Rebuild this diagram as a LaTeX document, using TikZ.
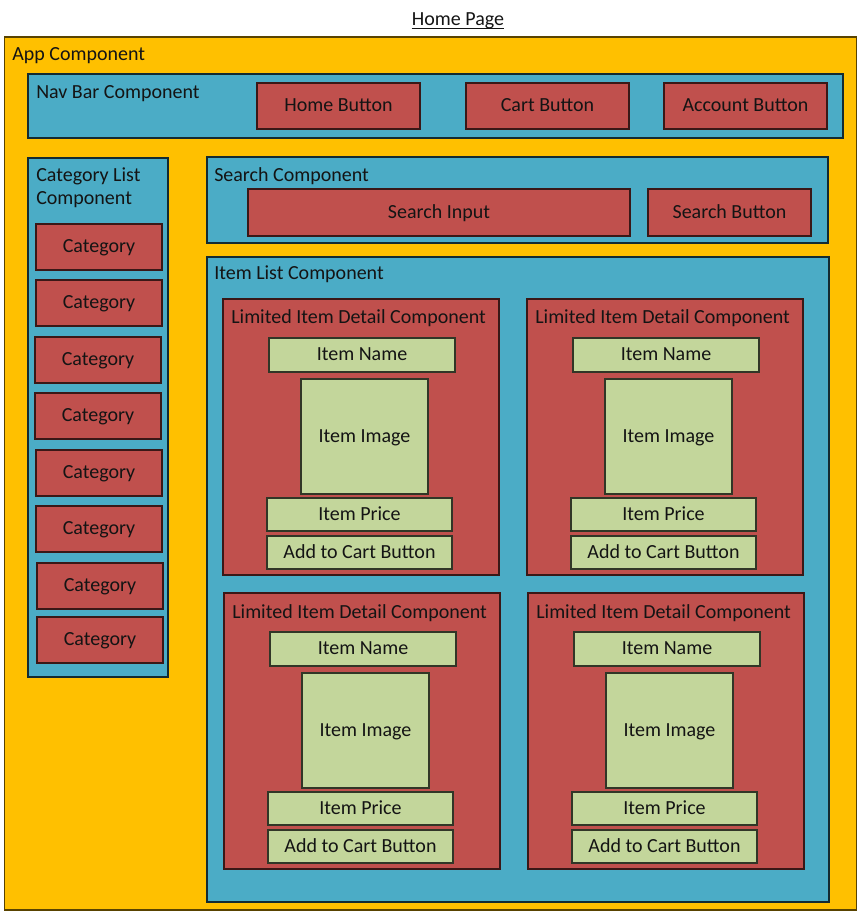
\documentclass[tikz,border=0pt]{standalone}
\usepackage{fontspec}
\setmainfont{Carlito}
\definecolor{appc}{HTML}{FFC000}
\definecolor{bluec}{HTML}{4BACC6}
\definecolor{redc}{HTML}{C0504D}
\definecolor{greenc}{HTML}{C3D69B}
\definecolor{txt}{HTML}{141414}
\newcommand{\rbox}[7]{\node[#1, minimum width={((#5)-(#3))*0.75pt}, minimum height={((#6)-(#4))*0.75pt}] (#2) at ({((#3)+(#5))/2},{((#4)+(#6))/2}) {#7};}
\newcommand{\lid}[3]{%
  \rbox{redbox}{#1}{#2}{#3}{#2+276}{#3+276}{}
  \node[lbl] (#1-t) at (#2+8,#3+25) {Limited Item Detail Component};
  \rbox{greenbox}{#1-name}{#2+46}{#3+39}{#2+232}{#3+73}{Item Name}
  \rbox{greenbox}{#1-img}{#2+78}{#3+80}{#2+205}{#3+195}{Item Image}
  \rbox{greenbox}{#1-price}{#2+44}{#3+199}{#2+229}{#3+232}{Item Price}
  \rbox{greenbox}{#1-add}{#2+44}{#3+237}{#2+229}{#3+270}{Add to Cart Button}
}
\begin{document}
\begin{tikzpicture}[x=0.75pt,y=-0.75pt,
  font=\fontsize{15}{17.25}\selectfont,
  basebox/.style={draw, line width=0.9pt, inner sep=0pt, text height=0.84em, text depth=0pt, text=txt},
  appbox/.style={basebox, fill=appc, draw=appc!35!black},
  bluebox/.style={basebox, fill=bluec, draw=bluec!25!black},
  redbox/.style={basebox, fill=redc, draw=redc!30!black},
  greenbox/.style={basebox, fill=greenc, draw=greenc!25!black},
  lbl/.style={anchor=base west, inner sep=0pt, text=txt}]
\useasboundingbox (0,0) rectangle (859,912);
\node[anchor=base, inner sep=0pt, text=txt] (home) at (458,26) {Home Page};
\draw[line width=0.8pt, txt] ([yshift=-1.6pt]home.base west) -- ([yshift=-1.6pt]home.base east);
\rbox{appbox}{app}{4.5}{37}{856.5}{910}{}
\node[lbl] (appt) at (12,61) {App Component};
\rbox{bluebox}{nav}{28}{74}{843}{138}{}
\node[lbl] (navt) at (36,99) {Nav Bar Component};
\rbox{redbox}{homeb}{257}{83}{420}{129}{Home Button}
\rbox{redbox}{cartb}{466}{83}{629}{129}{Cart Button}
\rbox{redbox}{accb}{664}{83}{827}{129}{Account Button}
\rbox{bluebox}{catl}{28}{158}{168}{677}{}
\node[lbl, align=left] (catlt) at (36,205) {Category List\\Component};
\rbox{redbox}{c1}{36}{224}{162}{270}{Category}
\rbox{redbox}{c2}{36}{280}{162}{326}{Category}
\rbox{redbox}{c3}{35}{337}{161}{383}{Category}
\rbox{redbox}{c4}{35}{393}{161}{439}{Category}
\rbox{redbox}{c5}{36}{450}{162}{496}{Category}
\rbox{redbox}{c6}{36}{506}{162}{552}{Category}
\rbox{redbox}{c7}{37}{563}{163}{609}{Category}
\rbox{redbox}{c8}{37}{617}{163}{663}{Category}
\rbox{bluebox}{search}{207}{157}{828}{243}{}
\node[lbl] (searcht) at (214,182) {Search Component};
\rbox{redbox}{sinput}{248}{189}{630}{236}{Search Input}
\rbox{redbox}{sbutton}{648}{189}{811}{236}{Search Button}
\rbox{bluebox}{ilist}{207}{257}{829}{902}{}
\node[lbl] (ilistt) at (214,280) {Item List Component};
\lid{l1}{223}{299}
\lid{l2}{527}{299}
\lid{l3}{224}{593}
\lid{l4}{528}{593}
\end{tikzpicture}
\end{document}
